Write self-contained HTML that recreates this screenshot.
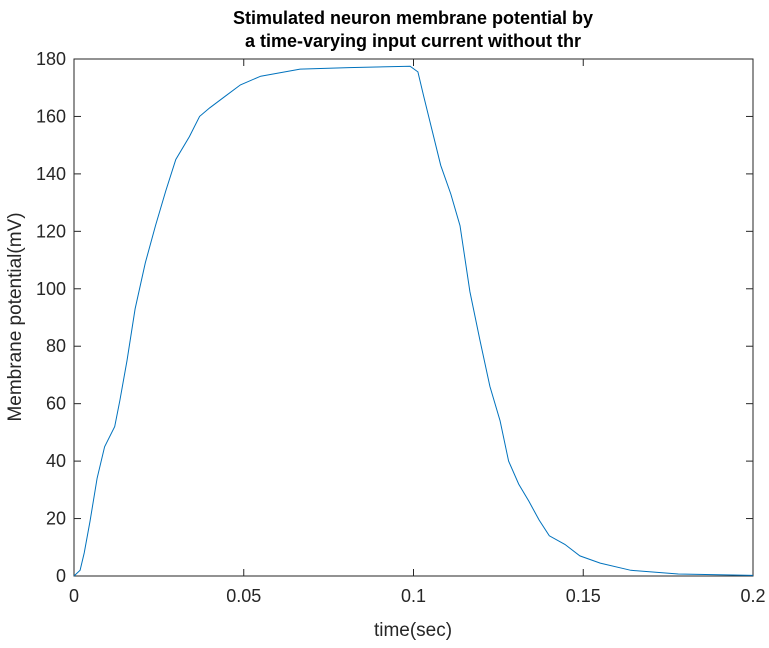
<!DOCTYPE html>
<html><head><meta charset="utf-8"><style>
html,body{margin:0;padding:0;background:#fff;}
svg text{font-family:"Liberation Sans",Arial,sans-serif;}
</style></head><body>
<svg id="chart" width="769" height="643" xmlns="http://www.w3.org/2000/svg">
<rect x="0" y="0" width="769" height="643" fill="#fff"/>
<text x="413" y="24" text-anchor="middle" font-size="18" font-weight="bold" fill="#000">Stimulated neuron membrane potential by</text>
<text x="413" y="47" text-anchor="middle" font-size="18" font-weight="bold" fill="#000">a time-varying input current without thr</text>
<g id="axes"></g>
<text x="413" y="636" text-anchor="middle" font-size="19" fill="#262626">time(sec)</text>
<text transform="translate(21,317) rotate(-90)" text-anchor="middle" font-size="19" fill="#262626">Membrane potential(mV)</text>
</svg>
<script>
const times=[0,0.0018,0.003,0.0047,0.0068,0.009,0.012,0.0135,0.0156,0.018,0.021,0.024,0.027,0.030,0.034,0.037,0.040,0.0445,0.049,0.055,0.0666,0.081,0.099,0.1013,0.103,0.1055,0.108,0.111,0.1137,0.1166,0.1196,0.1225,0.1255,0.128,0.131,0.134,0.137,0.140,0.1446,0.149,0.155,0.164,0.178,0.2];
const potentials=[0,2,8,19,34,45,52,61,75,93,109,122,134,145,153,160,163,167,171,174,176.5,177,177.5,175.5,167,155,143,133,122,99,82,66,54,40,32,26,19.5,14,11,7,4.5,2,0.7,0.2];
const xTicks=[0,0.05,0.1,0.15,0.2];
const xTickLabels=["0","0.05","0.1","0.15","0.2"];
const yTicks=[0,20,40,60,80,100,120,140,160,180];
const L=74,R=753,T=59,B=576;
const xs=v=>L+(v-0)/(0.2-0)*(R-L);
const ys=v=>B-(v-0)/(180-0)*(B-T);
const NS="http://www.w3.org/2000/svg";
const g=document.getElementById('axes');
function mk(tag,attrs){const e=document.createElementNS(NS,tag);for(const k in attrs)e.setAttribute(k,attrs[k]);g.appendChild(e);return e;}
const box=mk('rect',{x:L,y:T,width:R-L,height:B-T,fill:'none',stroke:'#262626','stroke-width':1});


xTicks.forEach((t,i)=>{
  const x=xs(t);
  const a=mk('line',{x1:x,x2:x,y1:B,y2:B-7,stroke:'#262626'});
  
  
  const b=mk('line',{x1:x,x2:x,y1:T,y2:T+7,stroke:'#262626'});
  
  
  const tx=mk('text',{x:x,y:B+26,'text-anchor':'middle','font-size':18,fill:'#262626'});
  tx.textContent=xTickLabels[i];
  
  
});
yTicks.forEach(t=>{
  const y=ys(t);
  const a=mk('line',{x1:L,x2:L+7,y1:y,y2:y,stroke:'#262626'});
  
  
  const b=mk('line',{x1:R,x2:R-7,y1:y,y2:y,stroke:'#262626'});
  
  
  const tx=mk('text',{x:L-8,y:y+6,'text-anchor':'end','font-size':18,fill:'#262626'});
  tx.textContent=String(t);
  
  
});
const pts=times.map((t,i)=>xs(t).toFixed(1)+','+ys(potentials[i]).toFixed(1)).join(' ');
const line=mk('polyline',{points:pts,fill:'none',stroke:'#0072BD','stroke-width':1});


</script>
</body></html>
